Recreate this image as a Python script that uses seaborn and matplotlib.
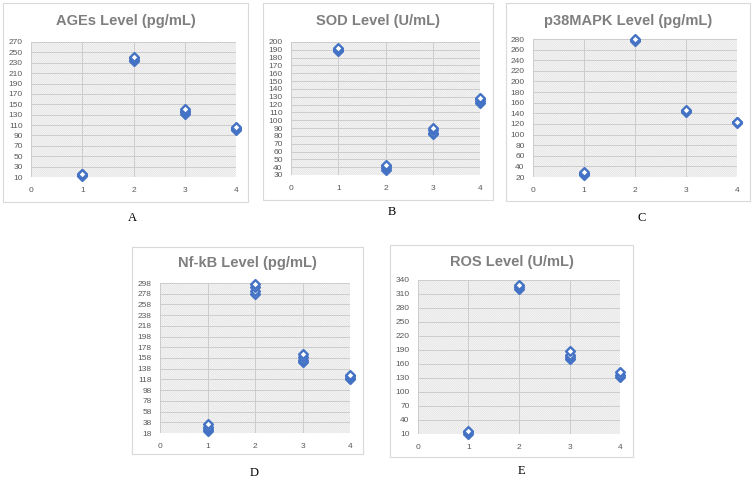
import pandas as pd
import seaborn as sns
import matplotlib.pyplot as plt
from matplotlib.patches import Rectangle

# values, one list per group (x = 1..4)
groups = [1, 2, 3, 4]

ages_vals = [[12, 14, 15, 16], [233, 236, 239, 242], [132, 135, 138, 141], [100, 102, 104, 106]]
sod_vals = [[188, 190, 191, 192], [37, 39, 41, 43], [82, 84, 88, 90], [122, 124, 127, 129]]
p38_vals = [[24, 26, 28, 29], [276, 278, 280], [143, 145, 146], [121, 123, 124]]
nfkb_vals = [[22, 26, 30, 34], [278, 284, 290, 296], [150, 155, 160, 165], [118, 121, 124, 127]]
ros_vals = [[11, 14, 17], [320, 325, 330], [170, 175, 180, 187], [132, 137, 142]]

titles = ['AGEs Level (pg/mL)', 'SOD Level (U/mL)', 'p38MAPK Level (pg/mL)',
          'Nf-kB Level (pg/mL)', 'ROS Level (U/mL)']
letters = ['A', 'B', 'C', 'D', 'E']
y_ticks = [list(range(10, 271, 20)), list(range(30, 201, 10)), list(range(20, 281, 20)),
           list(range(18, 299, 20)), list(range(10, 341, 30))]
x_ticks = [0, 1, 2, 3, 4]

W, H = 753, 480

# pixel layout: plot area (l, t, r, b), outer box (l, t, r, b), title y, letter (x, y)
layout = [
    ((31, 42, 236, 177), (3, 3, 248, 202), 21, (132, 218)),
    ((291, 42, 480, 175), (263, 3, 493, 200), 21, (392, 212)),
    ((533, 39, 737, 177), (506, 3, 750, 201), 21, (642, 218)),
    ((160, 283, 350, 433), (132, 247, 363, 454), 263, (254, 473)),
    ((418, 280, 620, 434), (390, 245, 633, 457), 262, (521, 471)),
]

sns.set_style('white')
plt.rcParams['font.family'] = ['Liberation Sans', 'DejaVu Sans']
plt.rcParams['hatch.linewidth'] = 0.5

fig = plt.figure(figsize=(W / 100, H / 100), dpi=100)

all_vals = [ages_vals, sod_vals, p38_vals, nfkb_vals, ros_vals]
for vals, title, letter, yt, (pa, box, ty, lp) in zip(all_vals, titles, letters, y_ticks, layout):
    rows = [(g, v) for g, vs in zip(groups, vals) for v in vs]
    df = pd.DataFrame(rows, columns=['group', 'value'])

    # outer chart box
    bl, bt, br, bb = box
    fig.patches.append(Rectangle((bl / W, 1 - bb / H), (br - bl) / W, (bb - bt) / H,
                                 transform=fig.transFigure, facecolor='none',
                                 edgecolor='#d9d9d9', linewidth=0.8, zorder=-1))

    l, t, r, b = pa
    ax = fig.add_axes([l / W, 1 - b / H, (r - l) / W, (b - t) / H])
    ax.set_facecolor('none')
    # diagonal hatch fill of the plot area
    ax.add_patch(Rectangle((0, 0), 1, 1, transform=ax.transAxes, facecolor='white',
                           edgecolor='#dedede', hatch='\\' * 18, linewidth=0, zorder=0))

    sns.scatterplot(data=df, x='group', y='value', ax=ax, marker='D', s=20,
                    facecolor='white', edgecolor='#4472c4', linewidth=1.7,
                    clip_on=False, zorder=3)

    ax.set_xlim(0, 4)
    ax.set_ylim(yt[0], yt[-1])
    ax.set_xticks(x_ticks)
    ax.set_yticks(yt)
    ax.grid(True, color='#cccccc', linewidth=0.7)
    ax.set_axisbelow(False)
    for s in ax.spines.values():
        s.set_visible(False)
    ax.tick_params(length=0, labelsize=6, colors='#595959')
    ax.tick_params(axis='x', pad=7)
    ax.tick_params(axis='y', pad=6)
    ax.set_xlabel('')
    ax.set_ylabel('')

    fig.text((bl + br) / 2 / W, 1 - ty / H, title, ha='center', va='center',
             fontsize=10.5, fontweight='bold', color='#7f7f7f')
    fig.text(lp[0] / W, 1 - lp[1] / H, letter, ha='center', va='center',
             fontsize=9, family='Liberation Serif', color='black')

fig.savefig('out.png', dpi=100)
